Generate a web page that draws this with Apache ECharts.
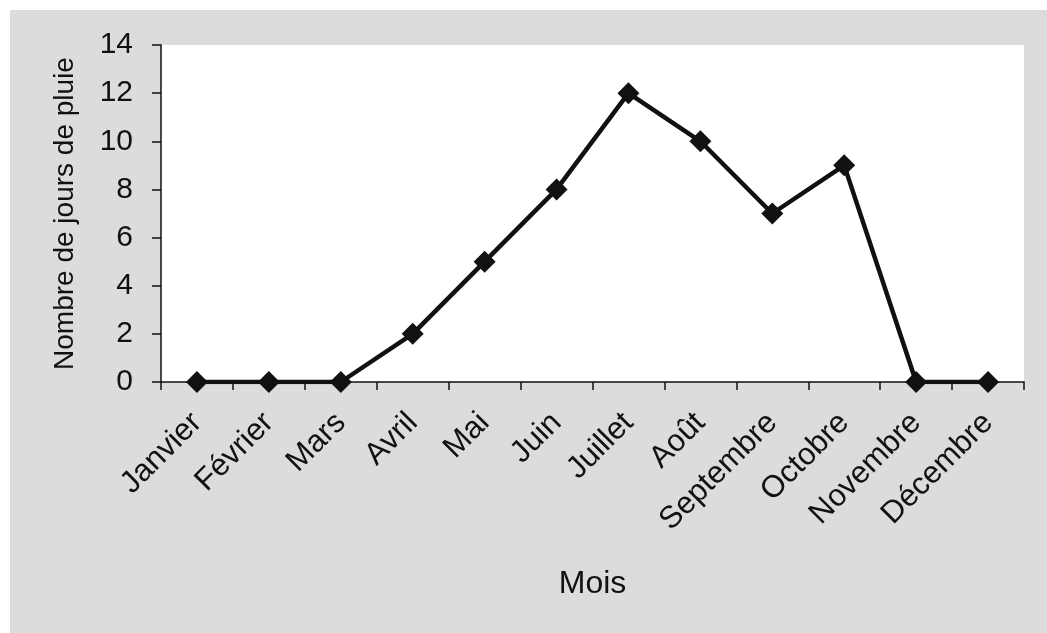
<!DOCTYPE html>
<html><head><meta charset="utf-8">
<script src="https://cdn.jsdelivr.net/npm/echarts@6/dist/echarts.min.js"></script>
<style>html,body{margin:0;padding:0;background:#fff}#c{width:1047px;height:633px}</style>
</head><body><div id="c"></div>
<script>
const categories = ['Janvier','Février','Mars','Avril','Mai','Juin','Juillet','Août','Septembre','Octobre','Novembre','Décembre'];
const rainDays = [0,0,0,2,5,8,12,10,7,9,0,0];
const yTicks = {min:0, max:14, interval:2};
const xTitle = 'Mois';
const yTitle = 'Nombre de jours de pluie';

const chart = echarts.init(document.getElementById('c'), null, {renderer:'canvas'});
const font = '"Liberation Sans", Arial, sans-serif';
chart.setOption({
  backgroundColor: '#ffffff',
  animation: false,
  graphic: [{type:'rect', z:-10, silent:true, shape:{x:10,y:10,width:1037,height:623}, style:{fill:'#dcdcdc'}},
            {type:'rect', z:-9, silent:true, shape:{x:161,y:45,width:863,height:337}, style:{fill:'#ffffff'}}],
  grid: {left:161, right:23, top:45, bottom:251, containLabel:false},
  xAxis: {
    type:'category', data:categories, boundaryGap:true,
    name:xTitle, nameLocation:'middle', nameGap:186,
    nameTextStyle:{fontFamily:font, fontSize:32, color:'#111'},
    axisLine:{lineStyle:{color:'#111', width:1.5}},
    axisTick:{show:true, alignWithLabel:false, length:8, lineStyle:{color:'#111', width:1.5}},
    axisLabel:{rotate:45, interval:0, margin:36, fontFamily:font, fontSize:31, color:'#111'},
    splitLine:{show:false}
  },
  yAxis: {
    type:'value', min:yTicks.min, max:yTicks.max, interval:yTicks.interval,
    name:yTitle, nameLocation:'middle', nameGap:82, nameRotate:90,
    nameTextStyle:{fontFamily:font, fontSize:28, color:'#111'},
    axisLine:{show:true, lineStyle:{color:'#111', width:1.5}},
    axisTick:{show:true, length:9, lineStyle:{color:'#111', width:1.5}},
    axisLabel:{margin:28, fontFamily:font, fontSize:30, color:'#111'},
    splitLine:{show:false}
  },
  series: [{
    type:'line', data:rainDays,
    symbol:'diamond', symbolSize:22,
    lineStyle:{color:'#111', width:4.5},
    itemStyle:{color:'#111'}
  }]
});
</script></body></html>
